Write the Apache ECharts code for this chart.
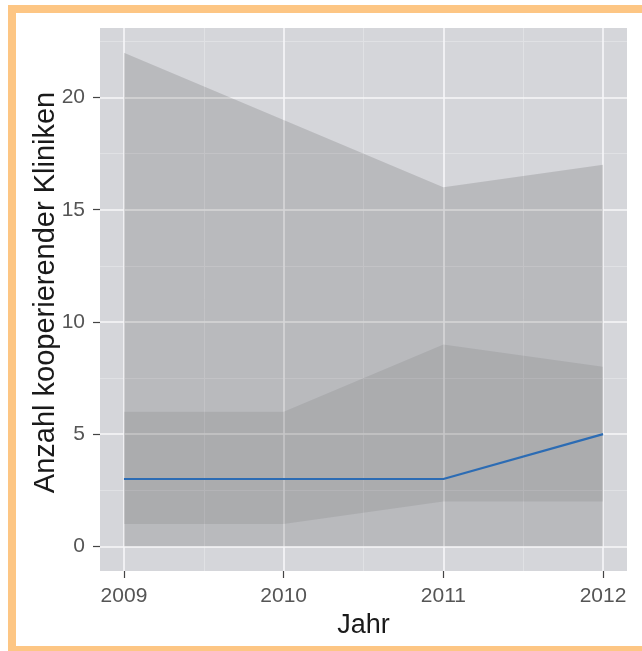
<!DOCTYPE html>
<html>
<head>
<meta charset="utf-8">
<script src="https://cdn.jsdelivr.net/npm/echarts@6/dist/echarts.min.js"></script>
<style>
  html, body { margin: 0; padding: 0; background: #ffffff; }
  #chart { width: 642px; height: 651px; }
</style>
</head>
<body>
<div id="chart"></div>
<script>
// Cooperating clinics per year: range, interquartile band and median
const years = [2009, 2010, 2011, 2012];
const minVals = [0, 0, 0, 0];
const maxVals = [22, 19, 16, 17];
const q1Vals = [1, 1, 2, 2];
const q3Vals = [6, 6, 9, 8];
const medianVals = [3, 3, 3, 5];

const yTicks = [0, 5, 10, 15, 20];
const yMinorLines = [2.5, 7.5, 12.5, 17.5, 22.5];
const xMinorLines = [2009.5, 2010.5, 2011.5];

const pairs = (vals) => years.map((y, i) => [y, vals[i]]);
const bandRows = (lo, hi) => years.map((y, i) => [y, lo[i], hi[i]]);

const FONT = 'Liberation Sans';

const minorStyle = { color: '#e0e1e4', width: 1, type: 'solid' };
const majorStyle = { color: '#f7f7f9', width: 1.6, type: 'solid' };
const gridLines = []
  .concat(yMinorLines.map(v => ({ yAxis: v, lineStyle: minorStyle })))
  .concat(xMinorLines.map(v => ({ xAxis: v, lineStyle: minorStyle })))
  .concat(yTicks.map(v => ({ yAxis: v, lineStyle: majorStyle })))
  .concat(years.map(v => ({ xAxis: v, lineStyle: majorStyle })));

// Ribbon between a lower and upper bound, drawn once as a single polygon
function bandSeries(name, lo, hi, fill, z) {
  const rows = bandRows(lo, hi);
  return {
    name: name,
    type: 'custom',
    silent: true,
    z: z,
    data: rows,
    encode: { x: 0, y: [1, 2] },
    renderItem: function (params, api) {
      if (params.dataIndex !== 0) return null;
      const top = rows.map(r => api.coord([r[0], r[2]]));
      const bottom = rows.map(r => api.coord([r[0], r[1]])).reverse();
      return {
        type: 'polygon',
        shape: { points: top.concat(bottom) },
        style: { fill: fill, stroke: null }
      };
    }
  };
}

const chart = echarts.init(document.getElementById('chart'), null, { renderer: 'canvas' });

chart.setOption({
  animation: false,
  backgroundColor: '#ffffff',
  graphic: [{
    type: 'rect',
    shape: { x: 12, y: 9, width: 660, height: 641 },
    style: { fill: 'none', stroke: '#fdc684', lineWidth: 8 },
    silent: true
  }],
  grid: {
    left: 100, right: 15, top: 28, bottom: 80,
    show: true, backgroundColor: '#d5d6da', borderWidth: 0,
    containLabel: false, outerBoundsMode: 'none'
  },
  xAxis: {
    type: 'value',
    min: 2008.85, max: 2012.15,
    name: 'Jahr',
    nameLocation: 'middle',
    nameGap: 41,
    nameMoveOverlap: false,
    nameTextStyle: { fontFamily: FONT, fontSize: 27, color: '#1a1a1a' },
    axisLine: { show: false, onZero: false },
    axisTick: { show: true, customValues: years, length: 7, lineStyle: { color: '#444', width: 1.2 } },
    axisLabel: {
      customValues: years, margin: 15, fontFamily: FONT, fontSize: 21, color: '#555',
      formatter: (v) => String(Math.round(v))
    },
    splitLine: { show: false }
  },
  yAxis: {
    type: 'value',
    min: -1.1, max: 23.1,
    name: 'Anzahl kooperierender Kliniken',
    nameLocation: 'middle',
    nameGap: 40,
    nameMoveOverlap: false,
    nameTextStyle: { fontFamily: FONT, fontSize: 29, color: '#1a1a1a', padding: [0, 0, 0, 14] },
    axisLine: { show: false, onZero: false },
    axisTick: { show: true, customValues: yTicks, length: 7, lineStyle: { color: '#444', width: 1.2 } },
    axisLabel: { customValues: yTicks, margin: 15, fontFamily: FONT, fontSize: 21, color: '#555' },
    splitLine: { show: false }
  },
  series: [
    {
      name: 'grid',
      type: 'line',
      data: pairs(minVals),
      symbol: 'none',
      lineStyle: { opacity: 0 },
      silent: true,
      z: 1,
      markLine: {
        silent: true, symbol: 'none', z: 1, animation: false,
        label: { show: false },
        data: gridLines
      }
    },
    bandSeries('range', minVals, maxVals, 'rgba(0,0,0,0.13)', 2),
    bandSeries('iqr', q1Vals, q3Vals, 'rgba(0,0,0,0.075)', 3),
    {
      name: 'median',
      type: 'line',
      data: pairs(medianVals),
      symbol: 'none',
      lineStyle: { color: '#2c6cb4', width: 2.2 },
      z: 4
    }
  ]
});
</script>
</body>
</html>
